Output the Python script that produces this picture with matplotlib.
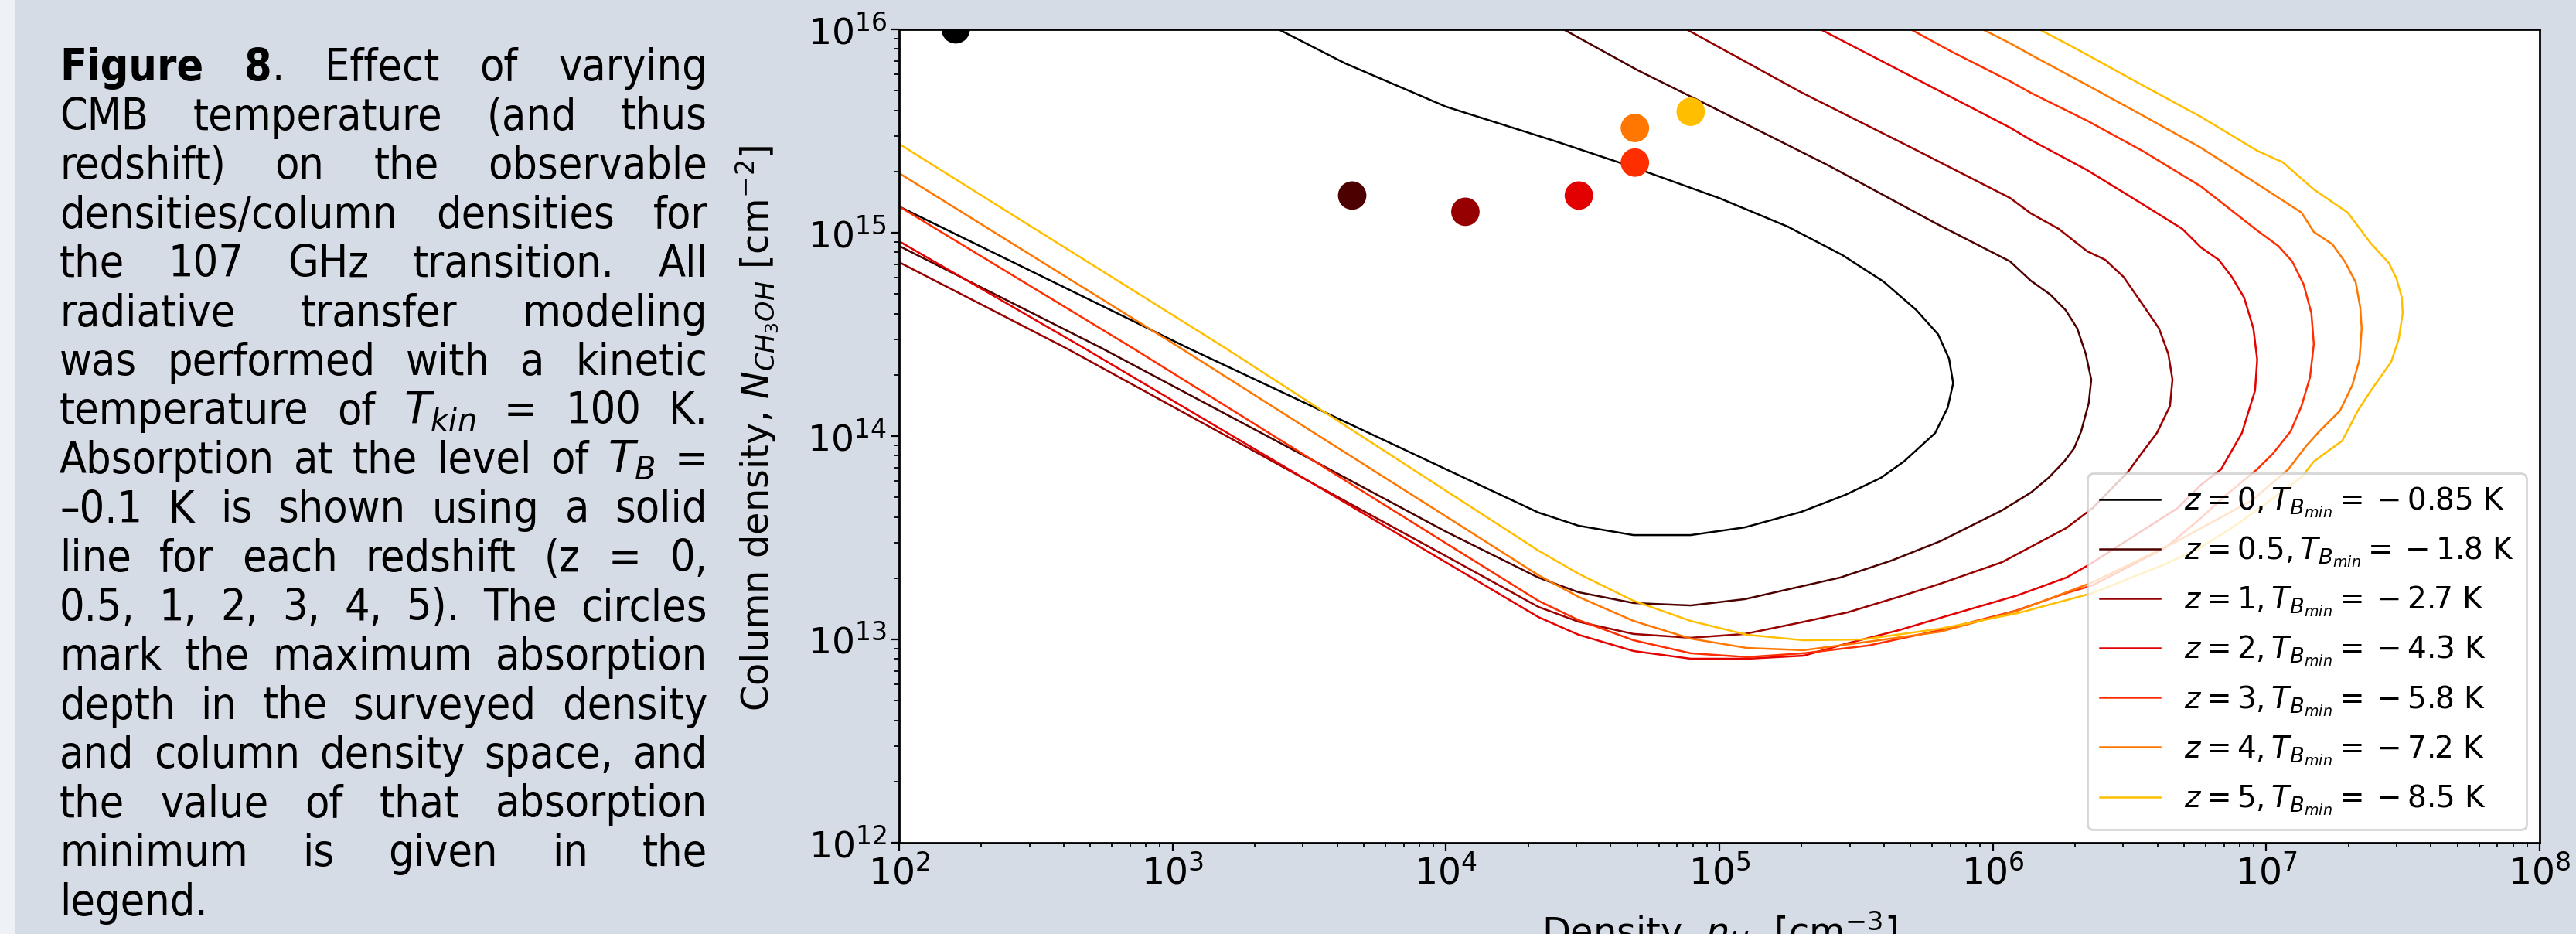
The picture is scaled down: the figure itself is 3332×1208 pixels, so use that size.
import numpy as np
import matplotlib
matplotlib.use("Agg")
import matplotlib.pyplot as plt
from matplotlib.patches import Rectangle

# ---------------- data (log10 values) ----------------
redshifts = ["0", "0.5", "1", "2", "3", "4", "5"]
tb_min = [-0.85, -1.8, -2.7, -4.3, -5.8, -7.2, -8.5]
colors = ["#000000", "#4c0000", "#970000", "#e30000", "#ff2e00", "#ff7600", "#ffbf00"]

peak_log_n = [2.207, 3.657, 4.071, 4.486, 4.691, 4.691, 4.895]
peak_log_N = [16.0, 15.183, 15.103, 15.183, 15.345, 15.515, 15.595]

z0_log_n = [2.0, 2.5, 3.057, 3.5, 4.0, 4.338, 4.485, 4.686, 4.895, 5.093, 5.299, 5.461, 5.591,
            5.675, 5.789, 5.835, 5.855, 5.84, 5.80, 5.72, 5.60, 5.45, 5.25, 5.0, 4.69, 4.4, 4.0,
            3.631, 3.388]
z0_log_N = [15.129, 14.80, 14.433, 14.153, 13.837, 13.624, 13.559, 13.513, 13.513, 13.551, 13.627,
            13.711, 13.795, 13.875, 14.015, 14.14, 14.26, 14.38, 14.50, 14.62, 14.76, 14.89, 15.03,
            15.17, 15.32, 15.45, 15.62, 15.833, 16.0]

z05_log_n = [2.0, 2.74, 3.5, 4.0, 4.338, 4.485, 4.686, 4.895, 5.093, 5.441, 5.630, 5.808, 6.034,
             6.139, 6.204, 6.261, 6.297, 6.323, 6.351, 6.360, 6.340, 6.309, 6.266, 6.210, 6.139,
             6.063, 5.8, 5.4, 5.0, 4.7, 4.43]
z05_log_N = [14.935, 14.433, 13.89, 13.53, 13.304, 13.232, 13.179, 13.167, 13.198, 13.304, 13.388,
             13.483, 13.635, 13.722, 13.795, 13.875, 13.939, 14.023, 14.163, 14.278, 14.403, 14.529,
             14.620, 14.696, 14.764, 14.859, 15.04, 15.33, 15.60, 15.80, 16.0]

z1_log_n = [2.0, 2.61, 3.5, 4.0, 4.338, 4.485, 4.686, 4.895, 5.093, 5.299, 5.469, 5.675, 5.808,
            6.034, 6.269, 6.365, 6.495, 6.543, 6.600, 6.648, 6.657, 6.642, 6.608, 6.552, 6.478,
            6.411, 6.345, 6.241, 6.139, 6.063, 5.7, 5.3, 4.88]
z1_log_N = [14.855, 14.433, 13.777, 13.41, 13.160, 13.087, 13.027, 13.008, 13.027, 13.084, 13.133,
            13.217, 13.274, 13.380, 13.548, 13.646, 13.825, 13.913, 14.015, 14.148, 14.278, 14.403,
            14.529, 14.639, 14.783, 14.867, 14.909, 15.019, 15.095, 15.171, 15.42, 15.69, 16.0]

z2_log_n = [2.0, 2.676, 3.5, 4.0, 4.338, 4.485, 4.686, 4.895, 5.101, 5.308, 5.469, 5.658, 5.808,
            6.091, 6.269, 6.354, 6.676, 6.761, 6.835, 6.911, 6.959, 6.967, 6.953, 6.919, 6.874,
            6.826, 6.761, 6.693, 6.552, 6.345, 6.139, 6.063, 5.7, 5.37]
z2_log_N = [14.958, 14.433, 13.777, 13.379, 13.110, 13.023, 12.943, 12.905, 12.905, 12.920, 12.981,
            13.046, 13.106, 13.217, 13.304, 13.369, 13.646, 13.760, 13.837, 14.015, 14.224, 14.376,
            14.529, 14.681, 14.783, 14.867, 14.928, 15.019, 15.137, 15.308, 15.456, 15.517, 15.77,
            16.0]

z3_log_n = [2.0, 2.854, 3.5, 4.0, 4.338, 4.485, 4.686, 4.895, 5.101, 5.308, 5.545, 5.808, 6.083,
            6.269, 6.365, 6.637, 6.761, 6.854, 6.967, 7.024, 7.089, 7.129, 7.160, 7.174, 7.165,
            7.137, 7.095, 7.044, 6.967, 6.761, 6.552, 6.345, 6.139, 6.063, 5.85, 5.70]
z3_log_N = [15.129, 14.433, 13.892, 13.473, 13.190, 13.095, 12.996, 12.932, 12.913, 12.932, 12.970,
            13.046, 13.141, 13.228, 13.266, 13.456, 13.597, 13.711, 13.837, 13.913, 14.023, 14.148,
            14.289, 14.452, 14.605, 14.745, 14.859, 14.935, 15.011, 15.228, 15.399, 15.551, 15.688,
            15.745, 15.89, 16.0]

z4_log_n = [2.0, 3.029, 3.5, 4.0, 4.338, 4.485, 4.686, 4.895, 5.101, 5.308, 5.545, 5.808, 6.091,
            6.365, 6.657, 6.789, 6.948, 7.081, 7.146, 7.194, 7.270, 7.315, 7.341, 7.349, 7.344,
            7.327, 7.287, 7.242, 7.174, 7.129, 6.967, 6.761, 6.552, 6.345, 6.139, 6.063, 5.963]
z4_log_N = [15.293, 14.433, 14.031, 13.605, 13.316, 13.209, 13.091, 13.004, 12.958, 12.947, 12.989,
            13.038, 13.141, 13.281, 13.471, 13.567, 13.684, 13.837, 13.951, 14.023, 14.125, 14.251,
            14.376, 14.529, 14.631, 14.757, 14.859, 14.943, 15.004, 15.099, 15.240, 15.418, 15.574,
            15.726, 15.875, 15.932, 16.0]

z5_log_n = [2.0, 3.193, 3.7, 4.0, 4.338, 4.485, 4.686, 4.895, 5.101, 5.308, 5.525, 5.808, 6.091,
            6.365, 6.628, 6.750, 6.874, 7.004, 7.129, 7.174, 7.278, 7.335, 7.383, 7.457, 7.485,
            7.499, 7.496, 7.476, 7.448, 7.383, 7.298, 7.174, 7.061, 6.967, 6.761, 6.552, 6.345,
            6.289, 6.170]
z5_log_N = [15.437, 14.433, 13.992, 13.731, 13.437, 13.323, 13.190, 13.091, 13.023, 12.996, 13.0,
            13.053, 13.129, 13.228, 13.369, 13.445, 13.548, 13.673, 13.798, 13.875, 13.977, 14.125,
            14.224, 14.365, 14.479, 14.605, 14.681, 14.776, 14.852, 14.947, 15.099, 15.213, 15.346,
            15.403, 15.570, 15.722, 15.875, 15.916, 16.0]

curves_n = [z0_log_n, z05_log_n, z1_log_n, z2_log_n, z3_log_n, z4_log_n, z5_log_n]
curves_N = [z0_log_N, z05_log_N, z1_log_N, z2_log_N, z3_log_N, z4_log_N, z5_log_N]

x_ticks = [1e2, 1e3, 1e4, 1e5, 1e6, 1e7, 1e8]
y_ticks = [1e12, 1e13, 1e14, 1e15, 1e16]

caption_lines = [
    "**Figure** **8**. Effect of varying",
    "CMB temperature (and thus",
    "redshift) on the observable",
    "densities/column densities for",
    "the 107 GHz transition. All",
    "radiative transfer modeling",
    "was performed with a kinetic",
    r"temperature of $T_{kin}$ = 100 K.",
    r"Absorption at the level of $T_B$ =",
    "\u20130.1 K is shown using a solid",
    "line for each redshift (z = 0,",
    "0.5, 1, 2, 3, 4, 5). The circles",
    "mark the maximum absorption",
    "depth in the surveyed density",
    "and column density space, and",
    "the value of that absorption",
    "minimum is given in the",
    "legend.",
]

# ---------------- figure ----------------
W, H = 3332, 1208
BG = "#d6dce5"
fig = plt.figure(figsize=(W / 100, H / 100), dpi=100, facecolor=BG)
fig.patches.append(Rectangle((0, 0), 20 / W, 1, transform=fig.transFigure,
                             facecolor="#eef1f5", edgecolor="none", zorder=0))

ax_l, ax_r, ax_t, ax_b = 1163, 3285, 38, 1090
ax = fig.add_axes([ax_l / W, 1 - ax_b / H, (ax_r - ax_l) / W, (ax_b - ax_t) / H])
ax.set_facecolor("white")

for ln, lN, col, z, tb in zip(curves_n, curves_N, colors, redshifts, tb_min):
    ax.plot(np.power(10.0, ln), np.power(10.0, lN), color=col, lw=1.8,
            label=r"$z = %s, T_{B_{min}} = {}-{} %s$ K" % (z, ("%g" % abs(tb))), zorder=2)

ax.scatter(np.power(10.0, peak_log_n), np.power(10.0, peak_log_N), s=700, c=colors,
           zorder=3, clip_on=True, edgecolors="none")

ax.set_xscale("log")
ax.set_yscale("log")
ax.set_xlim(1e2, 1e8)
ax.set_ylim(1e12, 1e16)
ax.set_xticks(x_ticks)
ax.set_yticks(y_ticks)
ax.tick_params(which="major", labelsize=34, length=8, width=1.6, color="black")
ax.tick_params(which="minor", length=4.5, width=1.3)
for sp in ax.spines.values():
    sp.set_linewidth(2.0)

ax.set_xlabel(r"Density, $n_{H_2}$ [cm$^{-3}$]", fontsize=34.5)
ax.xaxis.set_label_coords(0.5, -(1176 - ax_b) / (ax_b - ax_t))
ax.set_ylabel(r"Column density, $N_{CH_3OH}$ [cm$^{-2}$]", fontsize=34.5)
ax.yaxis.set_label_coords(-(ax_l - 1010) / (ax_r - ax_l), 0.51)

leg = ax.legend(loc="lower right", fontsize=28, framealpha=0.8, edgecolor="#cccccc",
                fancybox=True, borderaxespad=0.45)
leg.get_frame().set_linewidth(2.0)

# ---------------- justified caption ----------------
renderer = fig.canvas.get_renderer()
x0, x1 = 77, 915
base0, pitch = 104, 63.5
CAP_FAMILY = "DejaVu Sans"
CAP_STRETCH = "condensed"


def parse_word(word):
    parts = word.split("**")
    segs = []
    for i, p in enumerate(parts):
        if p:
            segs.append((p, "bold" if i % 2 == 1 else "normal"))
    return segs


def seg_w(text, weight, fs):
    t = fig.text(0, 0, text, fontsize=fs, fontweight=weight, family=CAP_FAMILY,
                 fontstretch=CAP_STRETCH)
    w = t.get_window_extent(renderer=renderer).width
    t.remove()
    return w


parsed = [[parse_word(w) for w in line.split(" ")] for line in caption_lines]

# choose the largest size (up to 41 pt) for which every line keeps a real word gap
CAP_FS = 41.0
while CAP_FS > 20:
    ok = True
    min_gap = 0.22 * CAP_FS * 100 / 72
    for words in parsed[:-1]:
        tot = sum(seg_w(s, wt, CAP_FS) for segs in words for s, wt in segs)
        if (x1 - x0 - tot) / (len(words) - 1) < min_gap:
            ok = False
            break
    if ok:
        break
    CAP_FS -= 0.5

for i, words in enumerate(parsed):
    widths = [[seg_w(s, wt, CAP_FS) for s, wt in segs] for segs in words]
    totals = [sum(ws) for ws in widths]
    last = i == len(parsed) - 1
    if len(words) > 1 and not last:
        gap = (x1 - x0 - sum(totals)) / (len(words) - 1)
    else:
        gap = seg_w(" ", "normal", CAP_FS)
    y = base0 + pitch * i
    x = x0
    for segs, ws in zip(words, widths):
        xx = x
        for (s, wt), w in zip(segs, ws):
            fig.text(xx / W, 1 - y / H, s, fontsize=CAP_FS, fontweight=wt,
                     family=CAP_FAMILY, fontstretch=CAP_STRETCH,
                     ha="left", va="baseline")
            xx += w
        x += sum(ws) + gap

fig.savefig("out.png", dpi=100, facecolor=BG)
